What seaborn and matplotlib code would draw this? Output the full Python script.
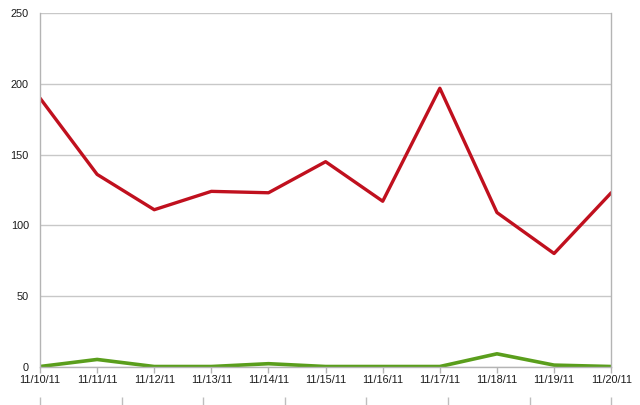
import numpy as np
import pandas as pd
import matplotlib.pyplot as plt
import seaborn as sns

dates = ['11/10/11', '11/11/11', '11/12/11', '11/13/11', '11/14/11', '11/15/11',
         '11/16/11', '11/17/11', '11/18/11', '11/19/11', '11/20/11']
red_vals = [190, 136, 111, 124, 123, 145, 117, 197, 109, 80, 123]
green_vals = [0, 5, 0, 0, 2, 0, 0, 0, 9, 1, 0]

df = pd.DataFrame({'date': dates, 'red': red_vals, 'green': green_vals})

sns.set_style('white')
plt.rcParams['font.family'] = ['Liberation Sans', 'DejaVu Sans']

fig = plt.figure(figsize=(6.4, 4.05), dpi=100)
ax = fig.add_axes([0.0625, 0.095, 0.8925, 0.872])

x = np.arange(len(dates))
sns.lineplot(x=x, y=df['red'], color='#C0101E', linewidth=2.4, ax=ax)
sns.lineplot(x=x, y=df['green'], color='#5A9E1C', linewidth=2.6, ax=ax)

ax.set_xlim(0, len(dates) - 1)
ax.set_ylim(0, 250)
ax.set_yticks(range(0, 251, 50))
ax.set_xticks(x)
ax.set_xticklabels(dates)
ax.set_xlabel('')
ax.set_ylabel('')
ax.yaxis.grid(True, color='#C8C8C8', linewidth=1)
ax.set_axisbelow(True)
for side in ['left', 'right', 'bottom']:
    ax.spines[side].set_color('#B4B4B4')
    ax.spines[side].set_linewidth(1)
ax.spines['top'].set_visible(False)
ax.tick_params(axis='x', colors='#B4B4B4', labelcolor='#1A1A1A', labelsize=7.8,
               length=4, width=1, pad=2, direction='out', bottom=True)
ax.tick_params(axis='y', labelcolor='#1A1A1A', labelsize=7.8, length=0, pad=8)

# faint second axis ticks below the chart
sec = ax.secondary_xaxis(-0.085, functions=(lambda v: v * 0.7, lambda v: v / 0.7))
sec.set_xticks(range(8))
sec.spines['bottom'].set_visible(False)
sec.tick_params(axis='x', colors='#BEBEBE', length=9, width=1, direction='out',
                labelbottom=False)

fig.savefig('out.png', dpi=100)
